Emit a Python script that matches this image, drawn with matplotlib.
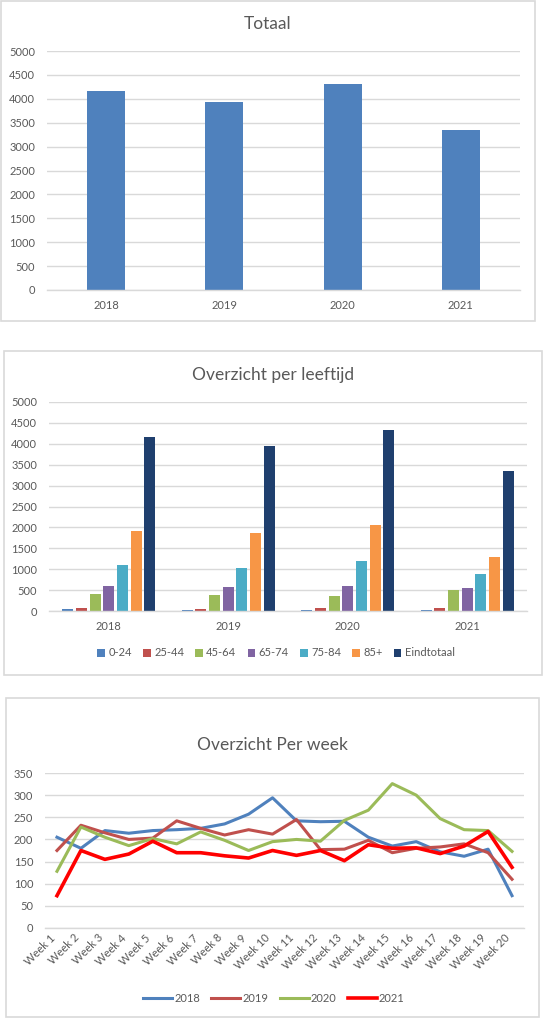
import numpy as np
import matplotlib
matplotlib.use("Agg")
import matplotlib.pyplot as plt
from matplotlib.patches import Rectangle

plt.rcParams["font.family"] = ["Lato", "DejaVu Sans"]

# ----- data
years = ["2018", "2019", "2020", "2021"]
totaal = [4160, 3940, 4320, 3340]

age_groups = ["0-24", "25-44", "45-64", "65-74", "75-84", "85+", "Eindtotaal"]
age_0_24 = [45, 20, 20, 20]
age_25_44 = [75, 40, 60, 60]
age_45_64 = [400, 380, 360, 500]
age_65_74 = [600, 570, 600, 550]
age_75_84 = [1100, 1040, 1190, 880]
age_85_plus = [1910, 1870, 2060, 1300]
eindtotaal = [4160, 3940, 4320, 3340]

weeks = ["Week %d" % i for i in range(1, 21)]
week_2018 = [205, 180, 220, 214, 220, 222, 225, 235, 257, 294,
             242, 240, 241, 205, 185, 195, 172, 162, 178, 73]
week_2019 = [175, 232, 215, 200, 203, 242, 225, 210, 222, 212,
             245, 177, 178, 198, 170, 180, 183, 190, 170, 110]
week_2020 = [128, 228, 205, 186, 202, 190, 217, 198, 175, 195,
             200, 196, 243, 266, 326, 300, 247, 222, 220, 173]
week_2021 = [73, 175, 155, 167, 196, 170, 170, 163, 158, 175,
             164, 175, 152, 188, 180, 181, 168, 185, 218, 137]

# ----- style
W, H = 549, 1023
TXT = "#595959"
GRID = "#d9d9d9"
age_colors = ["#4f81bd", "#c0504d", "#9bbb59", "#8064a2", "#4bacc6", "#f79646", "#1f3f6e"]
line_colors = ["#4f81bd", "#c0504d", "#9bbb59", "#ff0000"]


def box(l, t, r, b):
    """pixel box -> figure fraction [left, bottom, width, height]"""
    return [l / W, 1 - b / H, (r - l) / W, (b - t) / H]


def style_axes(ax, ymax, ystep):
    ax.set_ylim(0, ymax)
    ax.set_yticks(np.arange(0, ymax + 1, ystep))
    ax.yaxis.grid(True, color=GRID, linewidth=1.0)
    ax.set_axisbelow(True)
    for side in ["top", "right", "left"]:
        ax.spines[side].set_visible(False)
    ax.spines["bottom"].set_color(GRID)
    ax.spines["bottom"].set_linewidth(1.0)
    ax.tick_params(axis="both", length=0, colors=TXT, labelsize=8)
    ax.tick_params(axis="y", pad=8.5)
    ax.tick_params(axis="x", pad=7)


def panel(l, t, r, b, title, title_y):
    fig.add_artist(Rectangle((l / W, 1 - b / H), (r - l) / W, (b - t) / H,
                             transform=fig.transFigure, fill=False,
                             edgecolor=GRID, linewidth=1.2))
    fig.text((l + r) / 2 / W, 1 - title_y / H, title, ha="center", va="center",
             fontsize=12.5, color=TXT)


fig = plt.figure(figsize=(W / 100, H / 100), dpi=100)

# ----- Totaal
panel(1, 1, 535, 321, "Totaal", 24)
ax1 = fig.add_axes(box(47, 51, 520, 290))
x = np.arange(len(years))
ax1.bar(x, totaal, width=0.32, color="#4f81bd")
ax1.set_xlim(-0.5, len(years) - 0.5)
ax1.set_xticks(x)
ax1.set_xticklabels(years)
style_axes(ax1, 5000, 500)

# ----- Overzicht per leeftijd
panel(4, 351, 542, 675, "Overzicht per leeftijd", 375)
ax2 = fig.add_axes(box(49, 402, 527, 611))
series = [age_0_24, age_25_44, age_45_64, age_65_74, age_75_84, age_85_plus, eindtotaal]
slot = 0.8 / len(series)
for i, (vals, col, lab) in enumerate(zip(series, age_colors, age_groups)):
    ax2.bar(x - 0.4 + slot * (i + 0.5), vals, width=slot * 0.8, color=col, label=lab)
ax2.set_xlim(-0.5, len(years) - 0.5)
ax2.set_xticks(x)
ax2.set_xticklabels(years)
style_axes(ax2, 5000, 500)
ax2.legend(loc="center", bbox_to_anchor=(276 / W, 1 - 653 / H),
           bbox_transform=fig.transFigure, ncol=7, frameon=False,
           fontsize=8, labelcolor=TXT, handlelength=0.7, handleheight=0.7,
           handletextpad=0.3, columnspacing=1.0)

# ----- Overzicht Per week
panel(6, 698, 539, 1017, "Overzicht Per week", 745)
ax3 = fig.add_axes(box(45, 773, 524, 928))
xw = np.arange(len(weeks))
for vals, col, lab in zip([week_2018, week_2019, week_2020, week_2021], line_colors, years):
    lw = 2.6 if lab == "2021" else 2.2
    ax3.plot(xw, vals, color=col, linewidth=lw, label=lab)
ax3.set_xlim(-0.5, len(weeks) - 0.5)
ax3.set_xticks(xw)
ax3.set_xticklabels(weeks, rotation=45, ha="right")
style_axes(ax3, 350, 50)
ax3.tick_params(axis="x", pad=3)
ax3.legend(loc="center", bbox_to_anchor=(274 / W, 1 - 998 / H),
           bbox_transform=fig.transFigure, ncol=4, frameon=False,
           fontsize=8, labelcolor=TXT, handlelength=2.6,
           handletextpad=0.2, columnspacing=1.0)

fig.savefig("out.png", dpi=100, facecolor="white")
